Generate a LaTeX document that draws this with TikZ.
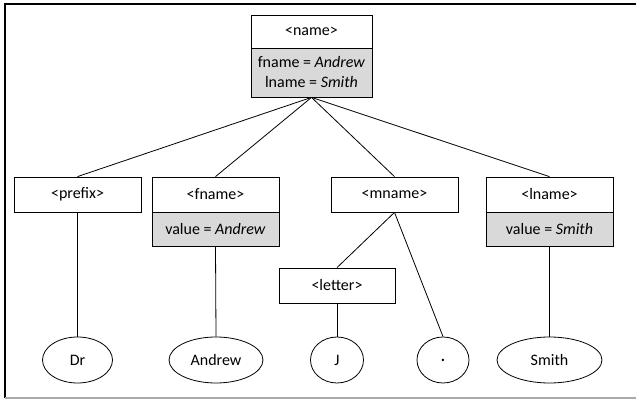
\documentclass[tikz,border=0pt]{standalone}
\usepackage{fontspec}
\setmainfont{Carlito}
\usetikzlibrary{shapes.geometric}

\tikzset{
  tagbox/.style={draw, rectangle, line width=0.6pt, inner sep=0pt, minimum width=95.25pt, minimum height=26.25pt, font=\fontsize{12}{15}\selectfont},
  valbox/.style={tagbox, fill={rgb, 255:red, 217; green, 217; blue, 217}, align=center},
  leaf/.style={draw, ellipse, line width=0.6pt, inner sep=0pt, minimum height=34.5pt, font=\fontsize{12}{15}\selectfont},
  branch/.style={line width=0.6pt}
}

\begin{document}
\begin{tikzpicture}[x=0.75pt,y=0.75pt,yscale=-1,xscale=1]
\useasboundingbox (0,0) rectangle (636,399);

%Frame
\draw [line width=1.2pt] (5,398) -- (5,4) -- (640,4) ;
\draw [color={rgb, 255:red, 170; green, 170; blue, 170 }, line width=0.8pt] (5,398) -- (640,398) ;

%Shape: Rectangle (root)
\node [tagbox, minimum width=90.75pt, minimum height=24.75pt] (name) at (311.5,31.5) {<name>};
\node [valbox, minimum width=90.75pt, minimum height=36.75pt] (nameval) at (311.5,72.5) {fname = \textit{Andrew}\\lname = \textit{Smith}};

%Shape: Rectangle (children)
\node [tagbox] (prefix) at (77.5,194.5) {<prefix>};
\node [tagbox] (fname) at (215.5,194.5) {<fname>};
\node [valbox, minimum height=25.5pt] (fnameval) at (215.5,229) {value = \textit{Andrew}};
\node [tagbox] (mname) at (394.5,194.5) {<mname>};
\node [tagbox] (lname) at (549.5,194.5) {<lname>};
\node [valbox, minimum height=25.5pt] (lnameval) at (549.5,229) {value = \textit{Smith}};
\node [tagbox, minimum width=87pt] (letter) at (337,285.5) {<letter>};

%Shape: Ellipse (leaves)
\node [leaf, minimum width=52.5pt] (dr) at (77.5,360) {Dr};
\node [leaf, minimum width=70.5pt] (andrew) at (216,360) {Andrew};
\node [leaf, minimum width=39.75pt] (j) at (337,360) {J};
\node [leaf, minimum width=39pt] (dot) at (443,360) {\textbf{.}};
\node [leaf, minimum width=78.75pt] (smith) at (549.5,360) {Smith};

%Straight Lines
\draw [branch] (nameval.south) -- (prefix.north) ;
\draw [branch] (nameval.south) -- (fname.north) ;
\draw [branch] (nameval.south) -- (mname.north) ;
\draw [branch] (nameval.south) -- (lname.north) ;
\draw [branch] (mname.south) -- (letter.north) ;
\draw [branch] (mname.south) -- (dot.north) ;
\draw [branch] (prefix.south) -- (dr.north) ;
\draw [branch] (fnameval.south) -- (andrew.north) ;
\draw [branch] (letter.south) -- (j.north) ;
\draw [branch] (lnameval.south) -- (smith.north) ;

\end{tikzpicture}
\end{document}
